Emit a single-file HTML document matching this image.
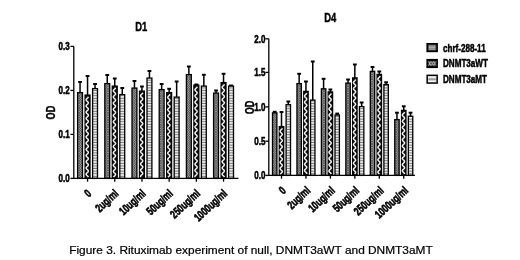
<!DOCTYPE html>
<html><head><meta charset="utf-8"><style>
html,body{margin:0;padding:0;background:#fff;}
svg{display:block;filter:grayscale(1) blur(0.3px);}
text{font-family:"Liberation Sans",sans-serif;fill:#000;}
.tk{font-size:10.5px;font-weight:bold;stroke:#000;stroke-width:0.55px;}
.xl{font-size:11.5px;font-weight:bold;stroke:#000;stroke-width:0.6px;}
.ti{font-size:12.4px;font-weight:bold;stroke:#000;stroke-width:0.45px;}
.od{font-size:12.5px;font-weight:bold;stroke:#000;stroke-width:0.35px;}
.lg{font-size:10.5px;font-weight:bold;stroke:#000;stroke-width:0.5px;}
.cap{font-size:10.5px;stroke:#000;stroke-width:0.2px;}
</style></head><body>
<svg width="520" height="260" viewBox="0 0 520 260">
<defs>
<pattern id="p1" patternUnits="userSpaceOnUse" width="2.4" height="2.4">
<rect width="2.4" height="2.4" fill="#a2a2a2"/>
<path d="M0 0L2.4 2.4M2.4 0L0 2.4" stroke="#2a2a2a" stroke-width="0.5"/>
</pattern>
<pattern id="p2" patternUnits="userSpaceOnUse" width="6" height="5.6">
<rect width="6" height="5.6" fill="#111"/>
<circle cx="2.2" cy="1.4" r="1.1" fill="#eee"/>
<circle cx="3.8" cy="4.2" r="1.1" fill="#eee"/>
</pattern>
<pattern id="p3" patternUnits="userSpaceOnUse" width="4" height="2.6">
<rect width="4" height="2.6" fill="#f0f0f0"/>
<rect y="1.6" width="4" height="1.0" fill="#777"/>
</pattern>
<pattern id="lp0" patternUnits="userSpaceOnUse" x="427.9" y="44.5" width="8.5" height="6.2">
<rect width="8.5" height="6.2" fill="#222"/>
<rect x="0.6" y="0.8" width="7.3" height="4.6" fill="#8c8c8c"/>
<path d="M1 1.2h1.6M3.4 1.2h1.6M5.8 1.2h1.6M1 3.1h1.6M3.4 3.1h1.6M5.8 3.1h1.6M1 5h1.6M3.4 5h1.6M5.8 5h1.6" stroke="#ccc" stroke-width="0.8"/>
</pattern>
<pattern id="lp1" patternUnits="userSpaceOnUse" x="427.9" y="60.4" width="8.5" height="6.2">
<rect width="8.5" height="6.2" fill="#111"/>
<path d="M0.5 1L2.9 5.2M2.9 1L0.5 5.2M3.1 1L5.5 5.2M5.5 1L3.1 5.2M5.7 1L8.1 5.2M8.1 1L5.7 5.2" stroke="#e8e8e8" stroke-width="0.85" fill="none"/>
</pattern>
<pattern id="lp2" patternUnits="userSpaceOnUse" x="427.9" y="76.1" width="8.5" height="6.2">
<rect width="8.5" height="6.2" fill="#f4f4f4"/>
<rect x="0.4" y="2.2" width="7.7" height="1.8" fill="#888"/>
</pattern>
</defs>
<rect width="520" height="260" fill="#fff"/>
<line x1="80.05" y1="92.60" x2="80.05" y2="82.00" stroke="#000" stroke-width="1.5"/>
<line x1="78.15" y1="82.00" x2="81.95" y2="82.00" stroke="#000" stroke-width="2.0"/>
<rect x="77.60" y="92.60" width="4.90" height="85.80" fill="url(#p1)" stroke="#000" stroke-width="1.3"/>
<line x1="87.55" y1="95.10" x2="87.55" y2="76.00" stroke="#000" stroke-width="1.5"/>
<line x1="85.65" y1="76.00" x2="89.45" y2="76.00" stroke="#000" stroke-width="2.0"/>
<rect x="85.10" y="95.10" width="4.90" height="83.30" fill="#111" stroke="#000" stroke-width="1.3"/>
<polyline points="88.35,96.70 88.18,97.20 87.78,97.70 87.25,98.20 86.72,98.70 86.32,99.20 86.15,99.70 86.26,100.20 86.62,100.70 87.14,101.20 87.68,101.70 88.12,102.20 88.34,102.70 88.28,103.20 87.97,103.70 87.47,104.20 86.92,104.70 86.45,105.20 86.19,105.70 86.19,106.20 86.45,106.70 86.92,107.20 87.47,107.70 87.97,108.20 88.28,108.70 88.34,109.20 88.12,109.70 87.68,110.20 87.14,110.70 86.62,111.20 86.26,111.70 86.15,112.20 86.32,112.70 86.72,113.20 87.25,113.70 87.78,114.20 88.18,114.70 88.35,115.20 88.24,115.70 87.88,116.20 87.36,116.70 86.82,117.20 86.38,117.70 86.16,118.20 86.22,118.70 86.53,119.20 87.03,119.70 87.58,120.20 88.05,120.70 88.31,121.20 88.31,121.70 88.05,122.20 87.58,122.70 87.03,123.20 86.53,123.70 86.22,124.20 86.16,124.70 86.38,125.20 86.82,125.70 87.36,126.20 87.88,126.70 88.24,127.20 88.35,127.70 88.18,128.20 87.78,128.70 87.25,129.20 86.72,129.70 86.32,130.20 86.15,130.70 86.26,131.20 86.62,131.70 87.14,132.20 87.68,132.70 88.12,133.20 88.34,133.70 88.28,134.20 87.97,134.70 87.47,135.20 86.92,135.70 86.45,136.20 86.19,136.70 86.19,137.20 86.45,137.70 86.92,138.20 87.47,138.70 87.97,139.20 88.28,139.70 88.34,140.20 88.12,140.70 87.68,141.20 87.14,141.70 86.62,142.20 86.26,142.70 86.15,143.20 86.32,143.70 86.72,144.20 87.25,144.70 87.78,145.20 88.18,145.70 88.35,146.20 88.24,146.70 87.88,147.20 87.36,147.70 86.82,148.20 86.38,148.70 86.16,149.20 86.22,149.70 86.53,150.20 87.03,150.70 87.58,151.20 88.05,151.70 88.31,152.20 88.31,152.70 88.05,153.20 87.58,153.70 87.03,154.20 86.53,154.70 86.22,155.20 86.16,155.70 86.38,156.20 86.82,156.70 87.36,157.20 87.88,157.70 88.24,158.20 88.35,158.70 88.18,159.20 87.78,159.70 87.25,160.20 86.72,160.70 86.32,161.20 86.15,161.70 86.26,162.20 86.62,162.70 87.14,163.20 87.68,163.70 88.12,164.20 88.34,164.70 88.28,165.20 87.97,165.70 87.47,166.20 86.92,166.70 86.45,167.20 86.19,167.70 86.19,168.20 86.45,168.70 86.92,169.20 87.47,169.70 87.97,170.20 88.28,170.70 88.34,171.20 88.12,171.70 87.68,172.20 87.14,172.70 86.62,173.20 86.26,173.70 86.15,174.20 86.32,174.70 86.72,175.20 87.25,175.70 87.78,176.20 88.18,176.70 88.35,177.20" fill="none" stroke="#f0f0f0" stroke-width="1.5" stroke-linejoin="round"/>
<line x1="95.05" y1="88.60" x2="95.05" y2="84.00" stroke="#000" stroke-width="1.5"/>
<line x1="93.15" y1="84.00" x2="96.95" y2="84.00" stroke="#000" stroke-width="2.0"/>
<rect x="92.60" y="88.60" width="4.90" height="89.80" fill="url(#p3)" stroke="#000" stroke-width="1.3"/>
<line x1="107.25" y1="83.60" x2="107.25" y2="75.00" stroke="#000" stroke-width="1.5"/>
<line x1="105.35" y1="75.00" x2="109.15" y2="75.00" stroke="#000" stroke-width="2.0"/>
<rect x="104.80" y="83.60" width="4.90" height="94.80" fill="url(#p1)" stroke="#000" stroke-width="1.3"/>
<line x1="114.75" y1="86.10" x2="114.75" y2="78.50" stroke="#000" stroke-width="1.5"/>
<line x1="112.85" y1="78.50" x2="116.65" y2="78.50" stroke="#000" stroke-width="2.0"/>
<rect x="112.30" y="86.10" width="4.90" height="92.30" fill="#111" stroke="#000" stroke-width="1.3"/>
<polyline points="115.55,87.70 115.38,88.20 114.98,88.70 114.45,89.20 113.92,89.70 113.52,90.20 113.35,90.70 113.46,91.20 113.82,91.70 114.34,92.20 114.88,92.70 115.32,93.20 115.54,93.70 115.48,94.20 115.17,94.70 114.67,95.20 114.12,95.70 113.65,96.20 113.39,96.70 113.39,97.20 113.65,97.70 114.12,98.20 114.67,98.70 115.17,99.20 115.48,99.70 115.54,100.20 115.32,100.70 114.88,101.20 114.34,101.70 113.82,102.20 113.46,102.70 113.35,103.20 113.52,103.70 113.92,104.20 114.45,104.70 114.98,105.20 115.38,105.70 115.55,106.20 115.44,106.70 115.08,107.20 114.56,107.70 114.02,108.20 113.58,108.70 113.36,109.20 113.42,109.70 113.73,110.20 114.23,110.70 114.78,111.20 115.25,111.70 115.51,112.20 115.51,112.70 115.25,113.20 114.78,113.70 114.23,114.20 113.73,114.70 113.42,115.20 113.36,115.70 113.58,116.20 114.02,116.70 114.56,117.20 115.08,117.70 115.44,118.20 115.55,118.70 115.38,119.20 114.98,119.70 114.45,120.20 113.92,120.70 113.52,121.20 113.35,121.70 113.46,122.20 113.82,122.70 114.34,123.20 114.88,123.70 115.32,124.20 115.54,124.70 115.48,125.20 115.17,125.70 114.67,126.20 114.12,126.70 113.65,127.20 113.39,127.70 113.39,128.20 113.65,128.70 114.12,129.20 114.67,129.70 115.17,130.20 115.48,130.70 115.54,131.20 115.32,131.70 114.88,132.20 114.34,132.70 113.82,133.20 113.46,133.70 113.35,134.20 113.52,134.70 113.92,135.20 114.45,135.70 114.98,136.20 115.38,136.70 115.55,137.20 115.44,137.70 115.08,138.20 114.56,138.70 114.02,139.20 113.58,139.70 113.36,140.20 113.42,140.70 113.73,141.20 114.23,141.70 114.78,142.20 115.25,142.70 115.51,143.20 115.51,143.70 115.25,144.20 114.78,144.70 114.23,145.20 113.73,145.70 113.42,146.20 113.36,146.70 113.58,147.20 114.02,147.70 114.56,148.20 115.08,148.70 115.44,149.20 115.55,149.70 115.38,150.20 114.98,150.70 114.45,151.20 113.92,151.70 113.52,152.20 113.35,152.70 113.46,153.20 113.82,153.70 114.34,154.20 114.88,154.70 115.32,155.20 115.54,155.70 115.48,156.20 115.17,156.70 114.67,157.20 114.12,157.70 113.65,158.20 113.39,158.70 113.39,159.20 113.65,159.70 114.12,160.20 114.67,160.70 115.17,161.20 115.48,161.70 115.54,162.20 115.32,162.70 114.88,163.20 114.34,163.70 113.82,164.20 113.46,164.70 113.35,165.20 113.52,165.70 113.92,166.20 114.45,166.70 114.98,167.20 115.38,167.70 115.55,168.20 115.44,168.70 115.08,169.20 114.56,169.70 114.02,170.20 113.58,170.70 113.36,171.20 113.42,171.70 113.73,172.20 114.23,172.70 114.78,173.20 115.25,173.70 115.51,174.20 115.51,174.70 115.25,175.20 114.78,175.70 114.23,176.20 113.73,176.70 113.42,177.20" fill="none" stroke="#f0f0f0" stroke-width="1.5" stroke-linejoin="round"/>
<line x1="122.25" y1="94.60" x2="122.25" y2="88.00" stroke="#000" stroke-width="1.5"/>
<line x1="120.35" y1="88.00" x2="124.15" y2="88.00" stroke="#000" stroke-width="2.0"/>
<rect x="119.80" y="94.60" width="4.90" height="83.80" fill="url(#p3)" stroke="#000" stroke-width="1.3"/>
<line x1="134.45" y1="88.10" x2="134.45" y2="81.00" stroke="#000" stroke-width="1.5"/>
<line x1="132.55" y1="81.00" x2="136.35" y2="81.00" stroke="#000" stroke-width="2.0"/>
<rect x="132.00" y="88.10" width="4.90" height="90.30" fill="url(#p1)" stroke="#000" stroke-width="1.3"/>
<line x1="141.95" y1="91.10" x2="141.95" y2="86.50" stroke="#000" stroke-width="1.5"/>
<line x1="140.05" y1="86.50" x2="143.85" y2="86.50" stroke="#000" stroke-width="2.0"/>
<rect x="139.50" y="91.10" width="4.90" height="87.30" fill="#111" stroke="#000" stroke-width="1.3"/>
<polyline points="142.75,92.70 142.58,93.20 142.18,93.70 141.65,94.20 141.12,94.70 140.72,95.20 140.55,95.70 140.66,96.20 141.02,96.70 141.54,97.20 142.08,97.70 142.52,98.20 142.74,98.70 142.68,99.20 142.37,99.70 141.87,100.20 141.32,100.70 140.85,101.20 140.59,101.70 140.59,102.20 140.85,102.70 141.32,103.20 141.87,103.70 142.37,104.20 142.68,104.70 142.74,105.20 142.52,105.70 142.08,106.20 141.54,106.70 141.02,107.20 140.66,107.70 140.55,108.20 140.72,108.70 141.12,109.20 141.65,109.70 142.18,110.20 142.58,110.70 142.75,111.20 142.64,111.70 142.28,112.20 141.76,112.70 141.22,113.20 140.78,113.70 140.56,114.20 140.62,114.70 140.93,115.20 141.43,115.70 141.98,116.20 142.45,116.70 142.71,117.20 142.71,117.70 142.45,118.20 141.98,118.70 141.43,119.20 140.93,119.70 140.62,120.20 140.56,120.70 140.78,121.20 141.22,121.70 141.76,122.20 142.28,122.70 142.64,123.20 142.75,123.70 142.58,124.20 142.18,124.70 141.65,125.20 141.12,125.70 140.72,126.20 140.55,126.70 140.66,127.20 141.02,127.70 141.54,128.20 142.08,128.70 142.52,129.20 142.74,129.70 142.68,130.20 142.37,130.70 141.87,131.20 141.32,131.70 140.85,132.20 140.59,132.70 140.59,133.20 140.85,133.70 141.32,134.20 141.87,134.70 142.37,135.20 142.68,135.70 142.74,136.20 142.52,136.70 142.08,137.20 141.54,137.70 141.02,138.20 140.66,138.70 140.55,139.20 140.72,139.70 141.12,140.20 141.65,140.70 142.18,141.20 142.58,141.70 142.75,142.20 142.64,142.70 142.28,143.20 141.76,143.70 141.22,144.20 140.78,144.70 140.56,145.20 140.62,145.70 140.93,146.20 141.43,146.70 141.98,147.20 142.45,147.70 142.71,148.20 142.71,148.70 142.45,149.20 141.98,149.70 141.43,150.20 140.93,150.70 140.62,151.20 140.56,151.70 140.78,152.20 141.22,152.70 141.76,153.20 142.28,153.70 142.64,154.20 142.75,154.70 142.58,155.20 142.18,155.70 141.65,156.20 141.12,156.70 140.72,157.20 140.55,157.70 140.66,158.20 141.02,158.70 141.54,159.20 142.08,159.70 142.52,160.20 142.74,160.70 142.68,161.20 142.37,161.70 141.87,162.20 141.32,162.70 140.85,163.20 140.59,163.70 140.59,164.20 140.85,164.70 141.32,165.20 141.87,165.70 142.37,166.20 142.68,166.70 142.74,167.20 142.52,167.70 142.08,168.20 141.54,168.70 141.02,169.20 140.66,169.70 140.55,170.20 140.72,170.70 141.12,171.20 141.65,171.70 142.18,172.20 142.58,172.70 142.75,173.20 142.64,173.70 142.28,174.20 141.76,174.70 141.22,175.20 140.78,175.70 140.56,176.20 140.62,176.70 140.93,177.20" fill="none" stroke="#f0f0f0" stroke-width="1.5" stroke-linejoin="round"/>
<line x1="149.45" y1="78.10" x2="149.45" y2="71.00" stroke="#000" stroke-width="1.5"/>
<line x1="147.55" y1="71.00" x2="151.35" y2="71.00" stroke="#000" stroke-width="2.0"/>
<rect x="147.00" y="78.10" width="4.90" height="100.30" fill="url(#p3)" stroke="#000" stroke-width="1.3"/>
<line x1="161.65" y1="89.60" x2="161.65" y2="84.00" stroke="#000" stroke-width="1.5"/>
<line x1="159.75" y1="84.00" x2="163.55" y2="84.00" stroke="#000" stroke-width="2.0"/>
<rect x="159.20" y="89.60" width="4.90" height="88.80" fill="url(#p1)" stroke="#000" stroke-width="1.3"/>
<line x1="169.15" y1="92.60" x2="169.15" y2="88.80" stroke="#000" stroke-width="1.5"/>
<line x1="167.25" y1="88.80" x2="171.05" y2="88.80" stroke="#000" stroke-width="2.0"/>
<rect x="166.70" y="92.60" width="4.90" height="85.80" fill="#111" stroke="#000" stroke-width="1.3"/>
<polyline points="169.95,94.20 169.78,94.70 169.38,95.20 168.85,95.70 168.32,96.20 167.92,96.70 167.75,97.20 167.86,97.70 168.22,98.20 168.74,98.70 169.28,99.20 169.72,99.70 169.94,100.20 169.88,100.70 169.57,101.20 169.07,101.70 168.52,102.20 168.05,102.70 167.79,103.20 167.79,103.70 168.05,104.20 168.52,104.70 169.07,105.20 169.57,105.70 169.88,106.20 169.94,106.70 169.72,107.20 169.28,107.70 168.74,108.20 168.22,108.70 167.86,109.20 167.75,109.70 167.92,110.20 168.32,110.70 168.85,111.20 169.38,111.70 169.78,112.20 169.95,112.70 169.84,113.20 169.48,113.70 168.96,114.20 168.42,114.70 167.98,115.20 167.76,115.70 167.82,116.20 168.13,116.70 168.63,117.20 169.18,117.70 169.65,118.20 169.91,118.70 169.91,119.20 169.65,119.70 169.18,120.20 168.63,120.70 168.13,121.20 167.82,121.70 167.76,122.20 167.98,122.70 168.42,123.20 168.96,123.70 169.48,124.20 169.84,124.70 169.95,125.20 169.78,125.70 169.38,126.20 168.85,126.70 168.32,127.20 167.92,127.70 167.75,128.20 167.86,128.70 168.22,129.20 168.74,129.70 169.28,130.20 169.72,130.70 169.94,131.20 169.88,131.70 169.57,132.20 169.07,132.70 168.52,133.20 168.05,133.70 167.79,134.20 167.79,134.70 168.05,135.20 168.52,135.70 169.07,136.20 169.57,136.70 169.88,137.20 169.94,137.70 169.72,138.20 169.28,138.70 168.74,139.20 168.22,139.70 167.86,140.20 167.75,140.70 167.92,141.20 168.32,141.70 168.85,142.20 169.38,142.70 169.78,143.20 169.95,143.70 169.84,144.20 169.48,144.70 168.96,145.20 168.42,145.70 167.98,146.20 167.76,146.70 167.82,147.20 168.13,147.70 168.63,148.20 169.18,148.70 169.65,149.20 169.91,149.70 169.91,150.20 169.65,150.70 169.18,151.20 168.63,151.70 168.13,152.20 167.82,152.70 167.76,153.20 167.98,153.70 168.42,154.20 168.96,154.70 169.48,155.20 169.84,155.70 169.95,156.20 169.78,156.70 169.38,157.20 168.85,157.70 168.32,158.20 167.92,158.70 167.75,159.20 167.86,159.70 168.22,160.20 168.74,160.70 169.28,161.20 169.72,161.70 169.94,162.20 169.88,162.70 169.57,163.20 169.07,163.70 168.52,164.20 168.05,164.70 167.79,165.20 167.79,165.70 168.05,166.20 168.52,166.70 169.07,167.20 169.57,167.70 169.88,168.20 169.94,168.70 169.72,169.20 169.28,169.70 168.74,170.20 168.22,170.70 167.86,171.20 167.75,171.70 167.92,172.20 168.32,172.70 168.85,173.20 169.38,173.70 169.78,174.20 169.95,174.70 169.84,175.20 169.48,175.70 168.96,176.20 168.42,176.70 167.98,177.20" fill="none" stroke="#f0f0f0" stroke-width="1.5" stroke-linejoin="round"/>
<line x1="176.65" y1="97.10" x2="176.65" y2="81.50" stroke="#000" stroke-width="1.5"/>
<line x1="174.75" y1="81.50" x2="178.55" y2="81.50" stroke="#000" stroke-width="2.0"/>
<rect x="174.20" y="97.10" width="4.90" height="81.30" fill="url(#p3)" stroke="#000" stroke-width="1.3"/>
<line x1="188.85" y1="74.60" x2="188.85" y2="66.50" stroke="#000" stroke-width="1.5"/>
<line x1="186.95" y1="66.50" x2="190.75" y2="66.50" stroke="#000" stroke-width="2.0"/>
<rect x="186.40" y="74.60" width="4.90" height="103.80" fill="url(#p1)" stroke="#000" stroke-width="1.3"/>
<line x1="196.35" y1="85.10" x2="196.35" y2="84.50" stroke="#000" stroke-width="1.5"/>
<line x1="194.45" y1="84.50" x2="198.25" y2="84.50" stroke="#000" stroke-width="2.0"/>
<rect x="193.90" y="85.10" width="4.90" height="93.30" fill="#111" stroke="#000" stroke-width="1.3"/>
<polyline points="197.15,86.70 196.98,87.20 196.58,87.70 196.05,88.20 195.52,88.70 195.12,89.20 194.95,89.70 195.06,90.20 195.42,90.70 195.94,91.20 196.48,91.70 196.92,92.20 197.14,92.70 197.08,93.20 196.77,93.70 196.27,94.20 195.72,94.70 195.25,95.20 194.99,95.70 194.99,96.20 195.25,96.70 195.72,97.20 196.27,97.70 196.77,98.20 197.08,98.70 197.14,99.20 196.92,99.70 196.48,100.20 195.94,100.70 195.42,101.20 195.06,101.70 194.95,102.20 195.12,102.70 195.52,103.20 196.05,103.70 196.58,104.20 196.98,104.70 197.15,105.20 197.04,105.70 196.68,106.20 196.16,106.70 195.62,107.20 195.18,107.70 194.96,108.20 195.02,108.70 195.33,109.20 195.83,109.70 196.38,110.20 196.85,110.70 197.11,111.20 197.11,111.70 196.85,112.20 196.38,112.70 195.83,113.20 195.33,113.70 195.02,114.20 194.96,114.70 195.18,115.20 195.62,115.70 196.16,116.20 196.68,116.70 197.04,117.20 197.15,117.70 196.98,118.20 196.58,118.70 196.05,119.20 195.52,119.70 195.12,120.20 194.95,120.70 195.06,121.20 195.42,121.70 195.94,122.20 196.48,122.70 196.92,123.20 197.14,123.70 197.08,124.20 196.77,124.70 196.27,125.20 195.72,125.70 195.25,126.20 194.99,126.70 194.99,127.20 195.25,127.70 195.72,128.20 196.27,128.70 196.77,129.20 197.08,129.70 197.14,130.20 196.92,130.70 196.48,131.20 195.94,131.70 195.42,132.20 195.06,132.70 194.95,133.20 195.12,133.70 195.52,134.20 196.05,134.70 196.58,135.20 196.98,135.70 197.15,136.20 197.04,136.70 196.68,137.20 196.16,137.70 195.62,138.20 195.18,138.70 194.96,139.20 195.02,139.70 195.33,140.20 195.83,140.70 196.38,141.20 196.85,141.70 197.11,142.20 197.11,142.70 196.85,143.20 196.38,143.70 195.83,144.20 195.33,144.70 195.02,145.20 194.96,145.70 195.18,146.20 195.62,146.70 196.16,147.20 196.68,147.70 197.04,148.20 197.15,148.70 196.98,149.20 196.58,149.70 196.05,150.20 195.52,150.70 195.12,151.20 194.95,151.70 195.06,152.20 195.42,152.70 195.94,153.20 196.48,153.70 196.92,154.20 197.14,154.70 197.08,155.20 196.77,155.70 196.27,156.20 195.72,156.70 195.25,157.20 194.99,157.70 194.99,158.20 195.25,158.70 195.72,159.20 196.27,159.70 196.77,160.20 197.08,160.70 197.14,161.20 196.92,161.70 196.48,162.20 195.94,162.70 195.42,163.20 195.06,163.70 194.95,164.20 195.12,164.70 195.52,165.20 196.05,165.70 196.58,166.20 196.98,166.70 197.15,167.20 197.04,167.70 196.68,168.20 196.16,168.70 195.62,169.20 195.18,169.70 194.96,170.20 195.02,170.70 195.33,171.20 195.83,171.70 196.38,172.20 196.85,172.70 197.11,173.20 197.11,173.70 196.85,174.20 196.38,174.70 195.83,175.20 195.33,175.70 195.02,176.20 194.96,176.70 195.18,177.20" fill="none" stroke="#f0f0f0" stroke-width="1.5" stroke-linejoin="round"/>
<line x1="203.85" y1="86.10" x2="203.85" y2="74.80" stroke="#000" stroke-width="1.5"/>
<line x1="201.95" y1="74.80" x2="205.75" y2="74.80" stroke="#000" stroke-width="2.0"/>
<rect x="201.40" y="86.10" width="4.90" height="92.30" fill="url(#p3)" stroke="#000" stroke-width="1.3"/>
<line x1="216.05" y1="93.10" x2="216.05" y2="90.50" stroke="#000" stroke-width="1.5"/>
<line x1="214.15" y1="90.50" x2="217.95" y2="90.50" stroke="#000" stroke-width="2.0"/>
<rect x="213.60" y="93.10" width="4.90" height="85.30" fill="url(#p1)" stroke="#000" stroke-width="1.3"/>
<line x1="223.55" y1="82.60" x2="223.55" y2="73.80" stroke="#000" stroke-width="1.5"/>
<line x1="221.65" y1="73.80" x2="225.45" y2="73.80" stroke="#000" stroke-width="2.0"/>
<rect x="221.10" y="82.60" width="4.90" height="95.80" fill="#111" stroke="#000" stroke-width="1.3"/>
<polyline points="224.35,84.20 224.18,84.70 223.78,85.20 223.25,85.70 222.72,86.20 222.32,86.70 222.15,87.20 222.26,87.70 222.62,88.20 223.14,88.70 223.68,89.20 224.12,89.70 224.34,90.20 224.28,90.70 223.97,91.20 223.47,91.70 222.92,92.20 222.45,92.70 222.19,93.20 222.19,93.70 222.45,94.20 222.92,94.70 223.47,95.20 223.97,95.70 224.28,96.20 224.34,96.70 224.12,97.20 223.68,97.70 223.14,98.20 222.62,98.70 222.26,99.20 222.15,99.70 222.32,100.20 222.72,100.70 223.25,101.20 223.78,101.70 224.18,102.20 224.35,102.70 224.24,103.20 223.88,103.70 223.36,104.20 222.82,104.70 222.38,105.20 222.16,105.70 222.22,106.20 222.53,106.70 223.03,107.20 223.58,107.70 224.05,108.20 224.31,108.70 224.31,109.20 224.05,109.70 223.58,110.20 223.03,110.70 222.53,111.20 222.22,111.70 222.16,112.20 222.38,112.70 222.82,113.20 223.36,113.70 223.88,114.20 224.24,114.70 224.35,115.20 224.18,115.70 223.78,116.20 223.25,116.70 222.72,117.20 222.32,117.70 222.15,118.20 222.26,118.70 222.62,119.20 223.14,119.70 223.68,120.20 224.12,120.70 224.34,121.20 224.28,121.70 223.97,122.20 223.47,122.70 222.92,123.20 222.45,123.70 222.19,124.20 222.19,124.70 222.45,125.20 222.92,125.70 223.47,126.20 223.97,126.70 224.28,127.20 224.34,127.70 224.12,128.20 223.68,128.70 223.14,129.20 222.62,129.70 222.26,130.20 222.15,130.70 222.32,131.20 222.72,131.70 223.25,132.20 223.78,132.70 224.18,133.20 224.35,133.70 224.24,134.20 223.88,134.70 223.36,135.20 222.82,135.70 222.38,136.20 222.16,136.70 222.22,137.20 222.53,137.70 223.03,138.20 223.58,138.70 224.05,139.20 224.31,139.70 224.31,140.20 224.05,140.70 223.58,141.20 223.03,141.70 222.53,142.20 222.22,142.70 222.16,143.20 222.38,143.70 222.82,144.20 223.36,144.70 223.88,145.20 224.24,145.70 224.35,146.20 224.18,146.70 223.78,147.20 223.25,147.70 222.72,148.20 222.32,148.70 222.15,149.20 222.26,149.70 222.62,150.20 223.14,150.70 223.68,151.20 224.12,151.70 224.34,152.20 224.28,152.70 223.97,153.20 223.47,153.70 222.92,154.20 222.45,154.70 222.19,155.20 222.19,155.70 222.45,156.20 222.92,156.70 223.47,157.20 223.97,157.70 224.28,158.20 224.34,158.70 224.12,159.20 223.68,159.70 223.14,160.20 222.62,160.70 222.26,161.20 222.15,161.70 222.32,162.20 222.72,162.70 223.25,163.20 223.78,163.70 224.18,164.20 224.35,164.70 224.24,165.20 223.88,165.70 223.36,166.20 222.82,166.70 222.38,167.20 222.16,167.70 222.22,168.20 222.53,168.70 223.03,169.20 223.58,169.70 224.05,170.20 224.31,170.70 224.31,171.20 224.05,171.70 223.58,172.20 223.03,172.70 222.53,173.20 222.22,173.70 222.16,174.20 222.38,174.70 222.82,175.20 223.36,175.70 223.88,176.20 224.24,176.70 224.35,177.20" fill="none" stroke="#f0f0f0" stroke-width="1.5" stroke-linejoin="round"/>
<line x1="231.05" y1="86.10" x2="231.05" y2="85.50" stroke="#000" stroke-width="1.5"/>
<line x1="229.15" y1="85.50" x2="232.95" y2="85.50" stroke="#000" stroke-width="2.0"/>
<rect x="228.60" y="86.10" width="4.90" height="92.30" fill="url(#p3)" stroke="#000" stroke-width="1.3"/>
<path d="M73.80 46.40V178.40H238.50" fill="none" stroke="#000" stroke-width="1.3"/>
<line x1="70.40" y1="46.40" x2="73.80" y2="46.40" stroke="#000" stroke-width="1.3"/>
<text class="tk" text-anchor="end" transform="translate(69.70 50.10) scale(0.76 1)">0.3</text>
<line x1="70.40" y1="90.40" x2="73.80" y2="90.40" stroke="#000" stroke-width="1.3"/>
<text class="tk" text-anchor="end" transform="translate(69.70 94.10) scale(0.76 1)">0.2</text>
<line x1="70.40" y1="134.40" x2="73.80" y2="134.40" stroke="#000" stroke-width="1.3"/>
<text class="tk" text-anchor="end" transform="translate(69.70 138.10) scale(0.76 1)">0.1</text>
<line x1="70.40" y1="178.40" x2="73.80" y2="178.40" stroke="#000" stroke-width="1.3"/>
<text class="tk" text-anchor="end" transform="translate(69.70 182.10) scale(0.76 1)">0.0</text>
<line x1="87.55" y1="178.40" x2="87.55" y2="181.70" stroke="#000" stroke-width="1.3"/>
<text class="xl" text-anchor="end" transform="translate(92.05 194.50) rotate(-43) scale(0.72 1)">0</text>
<line x1="114.75" y1="178.40" x2="114.75" y2="181.70" stroke="#000" stroke-width="1.3"/>
<text class="xl" text-anchor="end" transform="translate(119.25 194.50) rotate(-43) scale(0.72 1)">2ug/ml</text>
<line x1="141.95" y1="178.40" x2="141.95" y2="181.70" stroke="#000" stroke-width="1.3"/>
<text class="xl" text-anchor="end" transform="translate(146.45 194.50) rotate(-43) scale(0.72 1)">10ug/ml</text>
<line x1="169.15" y1="178.40" x2="169.15" y2="181.70" stroke="#000" stroke-width="1.3"/>
<text class="xl" text-anchor="end" transform="translate(173.65 194.50) rotate(-43) scale(0.72 1)">50ug/ml</text>
<line x1="196.35" y1="178.40" x2="196.35" y2="181.70" stroke="#000" stroke-width="1.3"/>
<text class="xl" text-anchor="end" transform="translate(200.85 194.50) rotate(-43) scale(0.72 1)">250ug/ml</text>
<line x1="223.55" y1="178.40" x2="223.55" y2="181.70" stroke="#000" stroke-width="1.3"/>
<text class="xl" text-anchor="end" transform="translate(228.05 194.50) rotate(-43) scale(0.72 1)">1000ug/ml</text>
<text class="ti" text-anchor="middle" transform="translate(141.30 30.90) scale(0.76 1)">D1</text>
<text class="od" text-anchor="middle" transform="translate(55.00 112.60) rotate(-90) scale(0.73 1)">OD</text>
<line x1="274.70" y1="112.90" x2="274.70" y2="111.80" stroke="#000" stroke-width="1.5"/>
<line x1="272.80" y1="111.80" x2="276.60" y2="111.80" stroke="#000" stroke-width="2.0"/>
<rect x="272.50" y="112.90" width="4.40" height="62.50" fill="url(#p1)" stroke="#000" stroke-width="1.3"/>
<line x1="281.50" y1="126.60" x2="281.50" y2="112.00" stroke="#000" stroke-width="1.5"/>
<line x1="279.60" y1="112.00" x2="283.40" y2="112.00" stroke="#000" stroke-width="2.0"/>
<rect x="279.30" y="126.60" width="4.40" height="48.80" fill="#111" stroke="#000" stroke-width="1.3"/>
<polyline points="282.30,128.20 282.13,128.70 281.73,129.20 281.20,129.70 280.67,130.20 280.27,130.70 280.10,131.20 280.21,131.70 280.57,132.20 281.09,132.70 281.63,133.20 282.07,133.70 282.29,134.20 282.23,134.70 281.92,135.20 281.42,135.70 280.87,136.20 280.40,136.70 280.14,137.20 280.14,137.70 280.40,138.20 280.87,138.70 281.42,139.20 281.92,139.70 282.23,140.20 282.29,140.70 282.07,141.20 281.63,141.70 281.09,142.20 280.57,142.70 280.21,143.20 280.10,143.70 280.27,144.20 280.67,144.70 281.20,145.20 281.73,145.70 282.13,146.20 282.30,146.70 282.19,147.20 281.83,147.70 281.31,148.20 280.77,148.70 280.33,149.20 280.11,149.70 280.17,150.20 280.48,150.70 280.98,151.20 281.53,151.70 282.00,152.20 282.26,152.70 282.26,153.20 282.00,153.70 281.53,154.20 280.98,154.70 280.48,155.20 280.17,155.70 280.11,156.20 280.33,156.70 280.77,157.20 281.31,157.70 281.83,158.20 282.19,158.70 282.30,159.20 282.13,159.70 281.73,160.20 281.20,160.70 280.67,161.20 280.27,161.70 280.10,162.20 280.21,162.70 280.57,163.20 281.09,163.70 281.63,164.20 282.07,164.70 282.29,165.20 282.23,165.70 281.92,166.20 281.42,166.70 280.87,167.20 280.40,167.70 280.14,168.20 280.14,168.70 280.40,169.20 280.87,169.70 281.42,170.20 281.92,170.70 282.23,171.20 282.29,171.70 282.07,172.20 281.63,172.70 281.09,173.20 280.57,173.70 280.21,174.20" fill="none" stroke="#f0f0f0" stroke-width="1.5" stroke-linejoin="round"/>
<line x1="288.30" y1="104.60" x2="288.30" y2="101.50" stroke="#000" stroke-width="1.5"/>
<line x1="286.40" y1="101.50" x2="290.20" y2="101.50" stroke="#000" stroke-width="2.0"/>
<rect x="286.10" y="104.60" width="4.40" height="70.80" fill="url(#p3)" stroke="#000" stroke-width="1.3"/>
<line x1="299.15" y1="83.60" x2="299.15" y2="73.80" stroke="#000" stroke-width="1.5"/>
<line x1="297.25" y1="73.80" x2="301.05" y2="73.80" stroke="#000" stroke-width="2.0"/>
<rect x="296.95" y="83.60" width="4.40" height="91.80" fill="url(#p1)" stroke="#000" stroke-width="1.3"/>
<line x1="305.95" y1="91.40" x2="305.95" y2="81.50" stroke="#000" stroke-width="1.5"/>
<line x1="304.05" y1="81.50" x2="307.85" y2="81.50" stroke="#000" stroke-width="2.0"/>
<rect x="303.75" y="91.40" width="4.40" height="84.00" fill="#111" stroke="#000" stroke-width="1.3"/>
<polyline points="306.75,93.00 306.58,93.50 306.18,94.00 305.65,94.50 305.12,95.00 304.72,95.50 304.55,96.00 304.66,96.50 305.02,97.00 305.54,97.50 306.08,98.00 306.52,98.50 306.74,99.00 306.68,99.50 306.37,100.00 305.87,100.50 305.32,101.00 304.85,101.50 304.59,102.00 304.59,102.50 304.85,103.00 305.32,103.50 305.87,104.00 306.37,104.50 306.68,105.00 306.74,105.50 306.52,106.00 306.08,106.50 305.54,107.00 305.02,107.50 304.66,108.00 304.55,108.50 304.72,109.00 305.12,109.50 305.65,110.00 306.18,110.50 306.58,111.00 306.75,111.50 306.64,112.00 306.28,112.50 305.76,113.00 305.22,113.50 304.78,114.00 304.56,114.50 304.62,115.00 304.93,115.50 305.43,116.00 305.98,116.50 306.45,117.00 306.71,117.50 306.71,118.00 306.45,118.50 305.98,119.00 305.43,119.50 304.93,120.00 304.62,120.50 304.56,121.00 304.78,121.50 305.22,122.00 305.76,122.50 306.28,123.00 306.64,123.50 306.75,124.00 306.58,124.50 306.18,125.00 305.65,125.50 305.12,126.00 304.72,126.50 304.55,127.00 304.66,127.50 305.02,128.00 305.54,128.50 306.08,129.00 306.52,129.50 306.74,130.00 306.68,130.50 306.37,131.00 305.87,131.50 305.32,132.00 304.85,132.50 304.59,133.00 304.59,133.50 304.85,134.00 305.32,134.50 305.87,135.00 306.37,135.50 306.68,136.00 306.74,136.50 306.52,137.00 306.08,137.50 305.54,138.00 305.02,138.50 304.66,139.00 304.55,139.50 304.72,140.00 305.12,140.50 305.65,141.00 306.18,141.50 306.58,142.00 306.75,142.50 306.64,143.00 306.28,143.50 305.76,144.00 305.22,144.50 304.78,145.00 304.56,145.50 304.62,146.00 304.93,146.50 305.43,147.00 305.98,147.50 306.45,148.00 306.71,148.50 306.71,149.00 306.45,149.50 305.98,150.00 305.43,150.50 304.93,151.00 304.62,151.50 304.56,152.00 304.78,152.50 305.22,153.00 305.76,153.50 306.28,154.00 306.64,154.50 306.75,155.00 306.58,155.50 306.18,156.00 305.65,156.50 305.12,157.00 304.72,157.50 304.55,158.00 304.66,158.50 305.02,159.00 305.54,159.50 306.08,160.00 306.52,160.50 306.74,161.00 306.68,161.50 306.37,162.00 305.87,162.50 305.32,163.00 304.85,163.50 304.59,164.00 304.59,164.50 304.85,165.00 305.32,165.50 305.87,166.00 306.37,166.50 306.68,167.00 306.74,167.50 306.52,168.00 306.08,168.50 305.54,169.00 305.02,169.50 304.66,170.00 304.55,170.50 304.72,171.00 305.12,171.50 305.65,172.00 306.18,172.50 306.58,173.00 306.75,173.50 306.64,174.00" fill="none" stroke="#f0f0f0" stroke-width="1.5" stroke-linejoin="round"/>
<line x1="312.75" y1="100.10" x2="312.75" y2="61.50" stroke="#000" stroke-width="1.5"/>
<line x1="310.85" y1="61.50" x2="314.65" y2="61.50" stroke="#000" stroke-width="2.0"/>
<rect x="310.55" y="100.10" width="4.40" height="75.30" fill="url(#p3)" stroke="#000" stroke-width="1.3"/>
<line x1="323.60" y1="88.80" x2="323.60" y2="78.80" stroke="#000" stroke-width="1.5"/>
<line x1="321.70" y1="78.80" x2="325.50" y2="78.80" stroke="#000" stroke-width="2.0"/>
<rect x="321.40" y="88.80" width="4.40" height="86.60" fill="url(#p1)" stroke="#000" stroke-width="1.3"/>
<line x1="330.40" y1="91.90" x2="330.40" y2="89.50" stroke="#000" stroke-width="1.5"/>
<line x1="328.50" y1="89.50" x2="332.30" y2="89.50" stroke="#000" stroke-width="2.0"/>
<rect x="328.20" y="91.90" width="4.40" height="83.50" fill="#111" stroke="#000" stroke-width="1.3"/>
<polyline points="331.20,93.50 331.03,94.00 330.63,94.50 330.10,95.00 329.57,95.50 329.17,96.00 329.00,96.50 329.11,97.00 329.47,97.50 329.99,98.00 330.53,98.50 330.97,99.00 331.19,99.50 331.13,100.00 330.82,100.50 330.32,101.00 329.77,101.50 329.30,102.00 329.04,102.50 329.04,103.00 329.30,103.50 329.77,104.00 330.32,104.50 330.82,105.00 331.13,105.50 331.19,106.00 330.97,106.50 330.53,107.00 329.99,107.50 329.47,108.00 329.11,108.50 329.00,109.00 329.17,109.50 329.57,110.00 330.10,110.50 330.63,111.00 331.03,111.50 331.20,112.00 331.09,112.50 330.73,113.00 330.21,113.50 329.67,114.00 329.23,114.50 329.01,115.00 329.07,115.50 329.38,116.00 329.88,116.50 330.43,117.00 330.90,117.50 331.16,118.00 331.16,118.50 330.90,119.00 330.43,119.50 329.88,120.00 329.38,120.50 329.07,121.00 329.01,121.50 329.23,122.00 329.67,122.50 330.21,123.00 330.73,123.50 331.09,124.00 331.20,124.50 331.03,125.00 330.63,125.50 330.10,126.00 329.57,126.50 329.17,127.00 329.00,127.50 329.11,128.00 329.47,128.50 329.99,129.00 330.53,129.50 330.97,130.00 331.19,130.50 331.13,131.00 330.82,131.50 330.32,132.00 329.77,132.50 329.30,133.00 329.04,133.50 329.04,134.00 329.30,134.50 329.77,135.00 330.32,135.50 330.82,136.00 331.13,136.50 331.19,137.00 330.97,137.50 330.53,138.00 329.99,138.50 329.47,139.00 329.11,139.50 329.00,140.00 329.17,140.50 329.57,141.00 330.10,141.50 330.63,142.00 331.03,142.50 331.20,143.00 331.09,143.50 330.73,144.00 330.21,144.50 329.67,145.00 329.23,145.50 329.01,146.00 329.07,146.50 329.38,147.00 329.88,147.50 330.43,148.00 330.90,148.50 331.16,149.00 331.16,149.50 330.90,150.00 330.43,150.50 329.88,151.00 329.38,151.50 329.07,152.00 329.01,152.50 329.23,153.00 329.67,153.50 330.21,154.00 330.73,154.50 331.09,155.00 331.20,155.50 331.03,156.00 330.63,156.50 330.10,157.00 329.57,157.50 329.17,158.00 329.00,158.50 329.11,159.00 329.47,159.50 329.99,160.00 330.53,160.50 330.97,161.00 331.19,161.50 331.13,162.00 330.82,162.50 330.32,163.00 329.77,163.50 329.30,164.00 329.04,164.50 329.04,165.00 329.30,165.50 329.77,166.00 330.32,166.50 330.82,167.00 331.13,167.50 331.19,168.00 330.97,168.50 330.53,169.00 329.99,169.50 329.47,170.00 329.11,170.50 329.00,171.00 329.17,171.50 329.57,172.00 330.10,172.50 330.63,173.00 331.03,173.50 331.20,174.00" fill="none" stroke="#f0f0f0" stroke-width="1.5" stroke-linejoin="round"/>
<line x1="337.20" y1="115.00" x2="337.20" y2="113.60" stroke="#000" stroke-width="1.5"/>
<line x1="335.30" y1="113.60" x2="339.10" y2="113.60" stroke="#000" stroke-width="2.0"/>
<rect x="335.00" y="115.00" width="4.40" height="60.40" fill="url(#p3)" stroke="#000" stroke-width="1.3"/>
<line x1="348.05" y1="83.10" x2="348.05" y2="79.50" stroke="#000" stroke-width="1.5"/>
<line x1="346.15" y1="79.50" x2="349.95" y2="79.50" stroke="#000" stroke-width="2.0"/>
<rect x="345.85" y="83.10" width="4.40" height="92.30" fill="url(#p1)" stroke="#000" stroke-width="1.3"/>
<line x1="354.85" y1="77.90" x2="354.85" y2="64.50" stroke="#000" stroke-width="1.5"/>
<line x1="352.95" y1="64.50" x2="356.75" y2="64.50" stroke="#000" stroke-width="2.0"/>
<rect x="352.65" y="77.90" width="4.40" height="97.50" fill="#111" stroke="#000" stroke-width="1.3"/>
<polyline points="355.65,79.50 355.48,80.00 355.08,80.50 354.55,81.00 354.02,81.50 353.62,82.00 353.45,82.50 353.56,83.00 353.92,83.50 354.44,84.00 354.98,84.50 355.42,85.00 355.64,85.50 355.58,86.00 355.27,86.50 354.77,87.00 354.22,87.50 353.75,88.00 353.49,88.50 353.49,89.00 353.75,89.50 354.22,90.00 354.77,90.50 355.27,91.00 355.58,91.50 355.64,92.00 355.42,92.50 354.98,93.00 354.44,93.50 353.92,94.00 353.56,94.50 353.45,95.00 353.62,95.50 354.02,96.00 354.55,96.50 355.08,97.00 355.48,97.50 355.65,98.00 355.54,98.50 355.18,99.00 354.66,99.50 354.12,100.00 353.68,100.50 353.46,101.00 353.52,101.50 353.83,102.00 354.33,102.50 354.88,103.00 355.35,103.50 355.61,104.00 355.61,104.50 355.35,105.00 354.88,105.50 354.33,106.00 353.83,106.50 353.52,107.00 353.46,107.50 353.68,108.00 354.12,108.50 354.66,109.00 355.18,109.50 355.54,110.00 355.65,110.50 355.48,111.00 355.08,111.50 354.55,112.00 354.02,112.50 353.62,113.00 353.45,113.50 353.56,114.00 353.92,114.50 354.44,115.00 354.98,115.50 355.42,116.00 355.64,116.50 355.58,117.00 355.27,117.50 354.77,118.00 354.22,118.50 353.75,119.00 353.49,119.50 353.49,120.00 353.75,120.50 354.22,121.00 354.77,121.50 355.27,122.00 355.58,122.50 355.64,123.00 355.42,123.50 354.98,124.00 354.44,124.50 353.92,125.00 353.56,125.50 353.45,126.00 353.62,126.50 354.02,127.00 354.55,127.50 355.08,128.00 355.48,128.50 355.65,129.00 355.54,129.50 355.18,130.00 354.66,130.50 354.12,131.00 353.68,131.50 353.46,132.00 353.52,132.50 353.83,133.00 354.33,133.50 354.88,134.00 355.35,134.50 355.61,135.00 355.61,135.50 355.35,136.00 354.88,136.50 354.33,137.00 353.83,137.50 353.52,138.00 353.46,138.50 353.68,139.00 354.12,139.50 354.66,140.00 355.18,140.50 355.54,141.00 355.65,141.50 355.48,142.00 355.08,142.50 354.55,143.00 354.02,143.50 353.62,144.00 353.45,144.50 353.56,145.00 353.92,145.50 354.44,146.00 354.98,146.50 355.42,147.00 355.64,147.50 355.58,148.00 355.27,148.50 354.77,149.00 354.22,149.50 353.75,150.00 353.49,150.50 353.49,151.00 353.75,151.50 354.22,152.00 354.77,152.50 355.27,153.00 355.58,153.50 355.64,154.00 355.42,154.50 354.98,155.00 354.44,155.50 353.92,156.00 353.56,156.50 353.45,157.00 353.62,157.50 354.02,158.00 354.55,158.50 355.08,159.00 355.48,159.50 355.65,160.00 355.54,160.50 355.18,161.00 354.66,161.50 354.12,162.00 353.68,162.50 353.46,163.00 353.52,163.50 353.83,164.00 354.33,164.50 354.88,165.00 355.35,165.50 355.61,166.00 355.61,166.50 355.35,167.00 354.88,167.50 354.33,168.00 353.83,168.50 353.52,169.00 353.46,169.50 353.68,170.00 354.12,170.50 354.66,171.00 355.18,171.50 355.54,172.00 355.65,172.50 355.48,173.00 355.08,173.50 354.55,174.00" fill="none" stroke="#f0f0f0" stroke-width="1.5" stroke-linejoin="round"/>
<line x1="361.65" y1="106.60" x2="361.65" y2="102.50" stroke="#000" stroke-width="1.5"/>
<line x1="359.75" y1="102.50" x2="363.55" y2="102.50" stroke="#000" stroke-width="2.0"/>
<rect x="359.45" y="106.60" width="4.40" height="68.80" fill="url(#p3)" stroke="#000" stroke-width="1.3"/>
<line x1="372.50" y1="71.40" x2="372.50" y2="67.00" stroke="#000" stroke-width="1.5"/>
<line x1="370.60" y1="67.00" x2="374.40" y2="67.00" stroke="#000" stroke-width="2.0"/>
<rect x="370.30" y="71.40" width="4.40" height="104.00" fill="url(#p1)" stroke="#000" stroke-width="1.3"/>
<line x1="379.30" y1="74.40" x2="379.30" y2="71.50" stroke="#000" stroke-width="1.5"/>
<line x1="377.40" y1="71.50" x2="381.20" y2="71.50" stroke="#000" stroke-width="2.0"/>
<rect x="377.10" y="74.40" width="4.40" height="101.00" fill="#111" stroke="#000" stroke-width="1.3"/>
<polyline points="380.10,76.00 379.93,76.50 379.53,77.00 379.00,77.50 378.47,78.00 378.07,78.50 377.90,79.00 378.01,79.50 378.37,80.00 378.89,80.50 379.43,81.00 379.87,81.50 380.09,82.00 380.03,82.50 379.72,83.00 379.22,83.50 378.67,84.00 378.20,84.50 377.94,85.00 377.94,85.50 378.20,86.00 378.67,86.50 379.22,87.00 379.72,87.50 380.03,88.00 380.09,88.50 379.87,89.00 379.43,89.50 378.89,90.00 378.37,90.50 378.01,91.00 377.90,91.50 378.07,92.00 378.47,92.50 379.00,93.00 379.53,93.50 379.93,94.00 380.10,94.50 379.99,95.00 379.63,95.50 379.11,96.00 378.57,96.50 378.13,97.00 377.91,97.50 377.97,98.00 378.28,98.50 378.78,99.00 379.33,99.50 379.80,100.00 380.06,100.50 380.06,101.00 379.80,101.50 379.33,102.00 378.78,102.50 378.28,103.00 377.97,103.50 377.91,104.00 378.13,104.50 378.57,105.00 379.11,105.50 379.63,106.00 379.99,106.50 380.10,107.00 379.93,107.50 379.53,108.00 379.00,108.50 378.47,109.00 378.07,109.50 377.90,110.00 378.01,110.50 378.37,111.00 378.89,111.50 379.43,112.00 379.87,112.50 380.09,113.00 380.03,113.50 379.72,114.00 379.22,114.50 378.67,115.00 378.20,115.50 377.94,116.00 377.94,116.50 378.20,117.00 378.67,117.50 379.22,118.00 379.72,118.50 380.03,119.00 380.09,119.50 379.87,120.00 379.43,120.50 378.89,121.00 378.37,121.50 378.01,122.00 377.90,122.50 378.07,123.00 378.47,123.50 379.00,124.00 379.53,124.50 379.93,125.00 380.10,125.50 379.99,126.00 379.63,126.50 379.11,127.00 378.57,127.50 378.13,128.00 377.91,128.50 377.97,129.00 378.28,129.50 378.78,130.00 379.33,130.50 379.80,131.00 380.06,131.50 380.06,132.00 379.80,132.50 379.33,133.00 378.78,133.50 378.28,134.00 377.97,134.50 377.91,135.00 378.13,135.50 378.57,136.00 379.11,136.50 379.63,137.00 379.99,137.50 380.10,138.00 379.93,138.50 379.53,139.00 379.00,139.50 378.47,140.00 378.07,140.50 377.90,141.00 378.01,141.50 378.37,142.00 378.89,142.50 379.43,143.00 379.87,143.50 380.09,144.00 380.03,144.50 379.72,145.00 379.22,145.50 378.67,146.00 378.20,146.50 377.94,147.00 377.94,147.50 378.20,148.00 378.67,148.50 379.22,149.00 379.72,149.50 380.03,150.00 380.09,150.50 379.87,151.00 379.43,151.50 378.89,152.00 378.37,152.50 378.01,153.00 377.90,153.50 378.07,154.00 378.47,154.50 379.00,155.00 379.53,155.50 379.93,156.00 380.10,156.50 379.99,157.00 379.63,157.50 379.11,158.00 378.57,158.50 378.13,159.00 377.91,159.50 377.97,160.00 378.28,160.50 378.78,161.00 379.33,161.50 379.80,162.00 380.06,162.50 380.06,163.00 379.80,163.50 379.33,164.00 378.78,164.50 378.28,165.00 377.97,165.50 377.91,166.00 378.13,166.50 378.57,167.00 379.11,167.50 379.63,168.00 379.99,168.50 380.10,169.00 379.93,169.50 379.53,170.00 379.00,170.50 378.47,171.00 378.07,171.50 377.90,172.00 378.01,172.50 378.37,173.00 378.89,173.50 379.43,174.00" fill="none" stroke="#f0f0f0" stroke-width="1.5" stroke-linejoin="round"/>
<line x1="386.10" y1="84.60" x2="386.10" y2="82.30" stroke="#000" stroke-width="1.5"/>
<line x1="384.20" y1="82.30" x2="388.00" y2="82.30" stroke="#000" stroke-width="2.0"/>
<rect x="383.90" y="84.60" width="4.40" height="90.80" fill="url(#p3)" stroke="#000" stroke-width="1.3"/>
<line x1="396.95" y1="119.60" x2="396.95" y2="112.70" stroke="#000" stroke-width="1.5"/>
<line x1="395.05" y1="112.70" x2="398.85" y2="112.70" stroke="#000" stroke-width="2.0"/>
<rect x="394.75" y="119.60" width="4.40" height="55.80" fill="url(#p1)" stroke="#000" stroke-width="1.3"/>
<line x1="403.75" y1="110.40" x2="403.75" y2="106.30" stroke="#000" stroke-width="1.5"/>
<line x1="401.85" y1="106.30" x2="405.65" y2="106.30" stroke="#000" stroke-width="2.0"/>
<rect x="401.55" y="110.40" width="4.40" height="65.00" fill="#111" stroke="#000" stroke-width="1.3"/>
<polyline points="404.55,112.00 404.38,112.50 403.98,113.00 403.45,113.50 402.92,114.00 402.52,114.50 402.35,115.00 402.46,115.50 402.82,116.00 403.34,116.50 403.88,117.00 404.32,117.50 404.54,118.00 404.48,118.50 404.17,119.00 403.67,119.50 403.12,120.00 402.65,120.50 402.39,121.00 402.39,121.50 402.65,122.00 403.12,122.50 403.67,123.00 404.17,123.50 404.48,124.00 404.54,124.50 404.32,125.00 403.88,125.50 403.34,126.00 402.82,126.50 402.46,127.00 402.35,127.50 402.52,128.00 402.92,128.50 403.45,129.00 403.98,129.50 404.38,130.00 404.55,130.50 404.44,131.00 404.08,131.50 403.56,132.00 403.02,132.50 402.58,133.00 402.36,133.50 402.42,134.00 402.73,134.50 403.23,135.00 403.78,135.50 404.25,136.00 404.51,136.50 404.51,137.00 404.25,137.50 403.78,138.00 403.23,138.50 402.73,139.00 402.42,139.50 402.36,140.00 402.58,140.50 403.02,141.00 403.56,141.50 404.08,142.00 404.44,142.50 404.55,143.00 404.38,143.50 403.98,144.00 403.45,144.50 402.92,145.00 402.52,145.50 402.35,146.00 402.46,146.50 402.82,147.00 403.34,147.50 403.88,148.00 404.32,148.50 404.54,149.00 404.48,149.50 404.17,150.00 403.67,150.50 403.12,151.00 402.65,151.50 402.39,152.00 402.39,152.50 402.65,153.00 403.12,153.50 403.67,154.00 404.17,154.50 404.48,155.00 404.54,155.50 404.32,156.00 403.88,156.50 403.34,157.00 402.82,157.50 402.46,158.00 402.35,158.50 402.52,159.00 402.92,159.50 403.45,160.00 403.98,160.50 404.38,161.00 404.55,161.50 404.44,162.00 404.08,162.50 403.56,163.00 403.02,163.50 402.58,164.00 402.36,164.50 402.42,165.00 402.73,165.50 403.23,166.00 403.78,166.50 404.25,167.00 404.51,167.50 404.51,168.00 404.25,168.50 403.78,169.00 403.23,169.50 402.73,170.00 402.42,170.50 402.36,171.00 402.58,171.50 403.02,172.00 403.56,172.50 404.08,173.00 404.44,173.50 404.55,174.00" fill="none" stroke="#f0f0f0" stroke-width="1.5" stroke-linejoin="round"/>
<line x1="410.55" y1="116.20" x2="410.55" y2="112.70" stroke="#000" stroke-width="1.5"/>
<line x1="408.65" y1="112.70" x2="412.45" y2="112.70" stroke="#000" stroke-width="2.0"/>
<rect x="408.35" y="116.20" width="4.40" height="59.20" fill="url(#p3)" stroke="#000" stroke-width="1.3"/>
<path d="M268.80 38.80V175.40H415.00" fill="none" stroke="#000" stroke-width="1.3"/>
<line x1="265.40" y1="38.80" x2="268.80" y2="38.80" stroke="#000" stroke-width="1.3"/>
<text class="tk" text-anchor="end" transform="translate(265.40 42.50) scale(0.76 1)">2.0</text>
<line x1="265.40" y1="72.40" x2="268.80" y2="72.40" stroke="#000" stroke-width="1.3"/>
<text class="tk" text-anchor="end" transform="translate(265.40 76.10) scale(0.76 1)">1.5</text>
<line x1="265.40" y1="106.90" x2="268.80" y2="106.90" stroke="#000" stroke-width="1.3"/>
<text class="tk" text-anchor="end" transform="translate(265.40 110.60) scale(0.76 1)">1.0</text>
<line x1="265.40" y1="141.20" x2="268.80" y2="141.20" stroke="#000" stroke-width="1.3"/>
<text class="tk" text-anchor="end" transform="translate(265.40 144.90) scale(0.76 1)">0.5</text>
<line x1="265.40" y1="175.40" x2="268.80" y2="175.40" stroke="#000" stroke-width="1.3"/>
<text class="tk" text-anchor="end" transform="translate(265.40 179.10) scale(0.76 1)">0.0</text>
<line x1="281.50" y1="175.40" x2="281.50" y2="178.70" stroke="#000" stroke-width="1.3"/>
<text class="xl" text-anchor="end" transform="translate(286.70 191.50) rotate(-43) scale(0.72 1)">0</text>
<line x1="305.95" y1="175.40" x2="305.95" y2="178.70" stroke="#000" stroke-width="1.3"/>
<text class="xl" text-anchor="end" transform="translate(311.15 191.50) rotate(-43) scale(0.72 1)">2ug/ml</text>
<line x1="330.40" y1="175.40" x2="330.40" y2="178.70" stroke="#000" stroke-width="1.3"/>
<text class="xl" text-anchor="end" transform="translate(335.60 191.50) rotate(-43) scale(0.72 1)">10ug/ml</text>
<line x1="354.85" y1="175.40" x2="354.85" y2="178.70" stroke="#000" stroke-width="1.3"/>
<text class="xl" text-anchor="end" transform="translate(360.05 191.50) rotate(-43) scale(0.72 1)">50ug/ml</text>
<line x1="379.30" y1="175.40" x2="379.30" y2="178.70" stroke="#000" stroke-width="1.3"/>
<text class="xl" text-anchor="end" transform="translate(384.50 191.50) rotate(-43) scale(0.72 1)">250ug/ml</text>
<line x1="403.75" y1="175.40" x2="403.75" y2="178.70" stroke="#000" stroke-width="1.3"/>
<text class="xl" text-anchor="end" transform="translate(408.95 191.50) rotate(-43) scale(0.72 1)">1000ug/ml</text>
<text class="ti" text-anchor="middle" transform="translate(330.30 22.00) scale(0.76 1)">D4</text>
<text class="od" text-anchor="middle" transform="translate(254.00 107.40) rotate(-90) scale(0.73 1)">OD</text>
<rect x="427.15" y="43.75" width="10.0" height="7.7" fill="url(#lp0)" stroke="#000" stroke-width="1.5"/>
<text class="lg" transform="translate(443 51.80) scale(0.77 1)">chrf-288-11</text>
<rect x="427.15" y="59.65" width="10.0" height="7.7" fill="url(#lp1)" stroke="#000" stroke-width="1.5"/>
<text class="lg" transform="translate(443 67.20) scale(0.77 1)">DNMT3aWT</text>
<rect x="427.15" y="75.35" width="10.0" height="7.7" fill="url(#lp2)" stroke="#000" stroke-width="1.5"/>
<text class="lg" transform="translate(443 82.50) scale(0.77 1)">DNMT3aMT</text>
<text class="cap" transform="translate(69.2 254.0) scale(1.133 1)">Figure 3. Rituximab experiment of null, DNMT3aWT and DNMT3aMT</text>
</svg>
</body></html>
